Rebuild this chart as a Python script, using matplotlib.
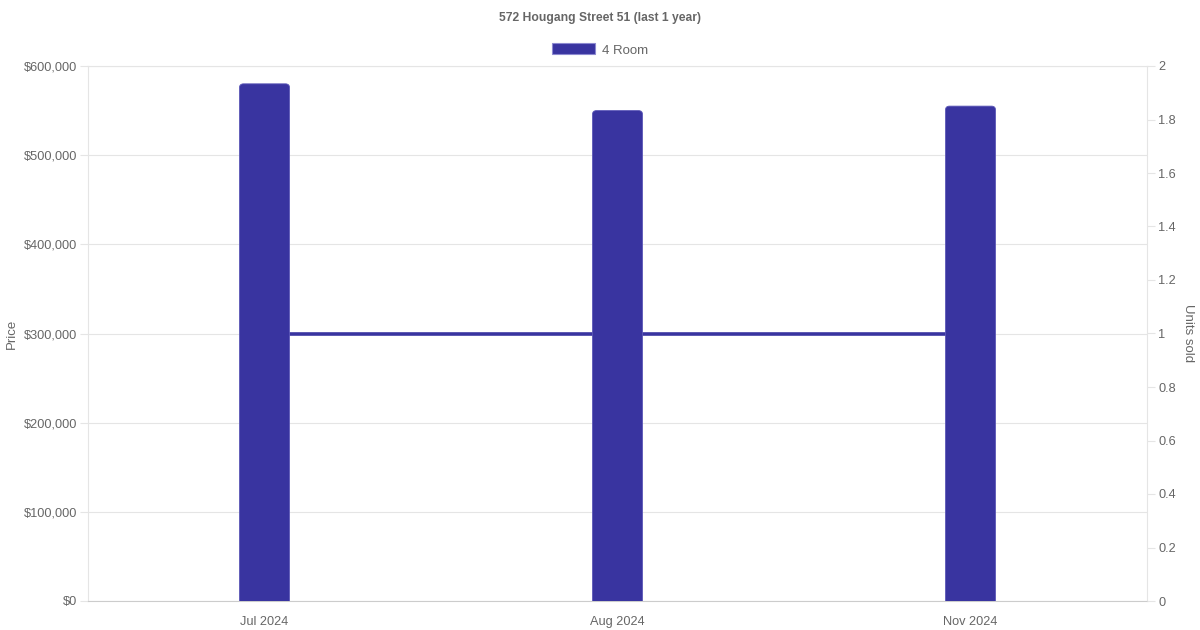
import matplotlib
matplotlib.use("Agg")
import matplotlib.pyplot as plt
from matplotlib.patches import FancyBboxPatch
from matplotlib.ticker import FuncFormatter, MultipleLocator

plt.rcParams['font.family'] = ['Liberation Sans', 'DejaVu Sans']

# data
months = ["Jul 2024", "Aug 2024", "Nov 2024"]
prices = [580000, 550000, 555000]
units_sold = [1, 1, 1]

bar_color = "#3934a0"
text_col = "#666666"
grid_col = "#e5e5e5"

fig = plt.figure(figsize=(12, 6.3), dpi=100)
rect = [88 / 1200, 29 / 630, 1059 / 1200, 535 / 630]
ax = fig.add_axes(rect)          # price axis + grid
ax2 = ax.twinx()                 # units sold line
ax3 = ax.twinx()                 # bars on top of the line
ax.set_zorder(0)
ax2.set_zorder(1)
ax3.set_zorder(2)
ax2.patch.set_visible(False)
ax3.patch.set_visible(False)

x = list(range(len(months)))
bw = 0.142

ax2.plot(x, units_sold, color=bar_color, lw=2.6, solid_capstyle="butt")

# bars with small rounded top corners; the bottom corners sit below the axis and get clipped
px_x = 1059 / 3          # pixels per category
px_y = 535 / 600000      # pixels per dollar
rad = 4 / px_x
aspect = (4 / px_y) / rad
below = 10 / px_y
for xi, p in zip(x, prices):
    ax3.add_patch(FancyBboxPatch((xi - bw / 2, -below), bw, p + below,
                                 boxstyle=f"round,pad=0,rounding_size={rad}",
                                 mutation_aspect=aspect,
                                 facecolor=bar_color, edgecolor="#5d59b8", lw=0.6))

for a in (ax, ax3):
    a.set_xlim(-0.5, len(months) - 0.5)
    a.set_ylim(0, 600000)
ax2.set_ylim(0, 2)
ax3.yaxis.set_visible(False)
for s in ax3.spines.values():
    s.set_visible(False)
for s in ax2.spines.values():
    s.set_visible(False)

ax.yaxis.set_major_locator(MultipleLocator(100000))
ax.yaxis.set_major_formatter(FuncFormatter(lambda v, p: f"${v:,.0f}"))
ax2.yaxis.set_major_locator(MultipleLocator(0.2))
ax2.yaxis.set_major_formatter(FuncFormatter(lambda v, p: f"{v:g}"))

ax.set_xticks(x)
ax.set_xticklabels(months)

ax.grid(axis="y", color=grid_col, lw=0.8)
ax.set_axisbelow(True)

for s in ax.spines.values():
    s.set_color(grid_col)
    s.set_linewidth(0.8)
ax.spines["bottom"].set_color("#cccccc")

for a in (ax, ax2):
    a.tick_params(colors=text_col, labelsize=9.2, length=5.8, width=0.8)
    a.tick_params(axis="y", color=grid_col, pad=2.2)
ax.tick_params(axis="x", length=0, pad=10.5)

ax.set_ylabel("Price", color=text_col, fontsize=9.5, labelpad=4)
ax2.set_ylabel("Units sold", color=text_col, fontsize=9.5, rotation=270, labelpad=13)

fig.text(0.5, 1 - 18.5 / 630, "572 Hougang Street 51 (last 1 year)", ha="center",
         va="center", fontsize=8.7, fontweight="bold", color=text_col)

fig.legend(handles=[plt.Rectangle((0, 0), 1, 1, facecolor=bar_color,
                                  edgecolor="#8c89d0", lw=0.8)],
           labels=["4 Room"], loc="center", bbox_to_anchor=(0.5, 1 - 50 / 630),
           frameon=False, fontsize=9.5, handlelength=3.3, handleheight=0.9,
           handletextpad=0.5, labelcolor=text_col)

fig.savefig("out.png", dpi=100)
